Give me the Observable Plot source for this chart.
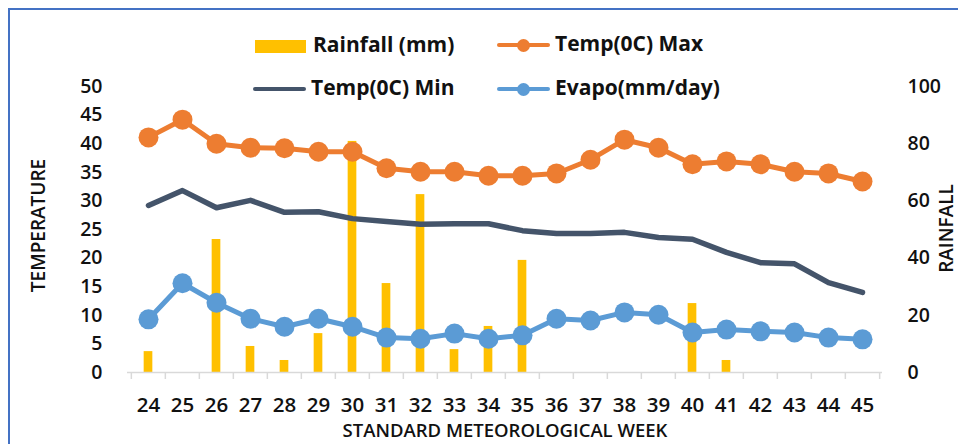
<!DOCTYPE html>
<html>
<head>
<meta charset="utf-8">
<script src="https://cdn.jsdelivr.net/npm/d3@7"></script>
<script src="https://cdn.jsdelivr.net/npm/@observablehq/plot@0.6"></script>
<style>
  html, body { margin: 0; padding: 0; background: #fff; overflow: hidden; }
  #wrap { position: relative; width: 958px; height: 444px; font-family: "Open Sans", sans-serif; }
  #border { position: absolute; left: 8px; top: 8px; width: 1000px; height: 500px; border: 2px solid #4472C4; box-sizing: border-box; }
  .leg { position: absolute; font-size: 21px; font-weight: 700; color: #111; white-space: nowrap; line-height: 1; }
  .sw { position: absolute; }
</style>
</head>
<body>
<div id="wrap">
  <div id="chart"></div>
  <div id="border"></div>
  <div id="legend"></div>
</div>
<script>
const weeks = [24, 25, 26, 27, 28, 29, 30, 31, 32, 33, 34, 35, 36, 37, 38, 39, 40, 41, 42, 43, 44, 45];
const rainfall = [7.3, 0, 46.5, 9.1, 4.2, 13.6, 80.8, 31.1, 62.2, 8.0, 16.1, 39.2, 0, 0, 0, 0, 24.1, 4.2, 0, 0, 0, 0];
const tempMax = [41.1, 44.2, 40.0, 39.3, 39.2, 38.6, 38.6, 35.7, 35.1, 35.1, 34.4, 34.4, 34.8, 37.2, 40.7, 39.3, 36.4, 36.9, 36.4, 35.1, 34.8, 33.4];
const tempMin = [29.2, 31.8, 28.8, 30.1, 28.0, 28.1, 26.9, 26.4, 25.9, 26.0, 26.0, 24.8, 24.3, 24.3, 24.5, 23.6, 23.3, 21.0, 19.2, 19.0, 15.7, 14.0];
const evapo = [9.3, 15.6, 12.2, 9.4, 8.0, 9.4, 8.0, 6.1, 5.9, 6.8, 5.9, 6.5, 9.4, 9.1, 10.5, 10.1, 7.0, 7.5, 7.2, 7.0, 6.1, 5.8];
const leftTicks = [0, 5, 10, 15, 20, 25, 30, 35, 40, 45, 50];
const rightTicks = [0, 20, 40, 60, 80, 100];

const colors = {rain: "#FFC000", max: "#ED7D31", min: "#44546A", evapo: "#5B9BD5"};
const rainMax = 100, tempTop = 50;
const ratio = tempTop / rainMax; // rainfall mapped on the temperature scale

const data = weeks.map((w, i) => ({week: w, rain: rainfall[i], tmax: tempMax[i], tmin: tempMin[i], evapo: evapo[i]}));

const W = 958, H = 444;
const mL = 127, mR = 76, mT = 86, mB = 72;
const step = (W - mL - mR) / weeks.length;
const barW = 9;
const inset = (step - barW) / 2;
const tickColor = "#d9d9d9";

const chart = Plot.plot({
  width: W,
  height: H,
  marginLeft: mL,
  marginRight: mR,
  marginTop: mT,
  marginBottom: mB,
  style: {fontFamily: "'Open Sans', sans-serif", color: "#111", background: "transparent"},
  x: {type: "band", domain: weeks, padding: 0},
  y: {domain: [0, tempTop]},
  marks: [
    Plot.barY(data, {x: "week", y: d => d.rain * ratio, fill: colors.rain, insetLeft: inset, insetRight: inset}),
    Plot.ruleY([0], {stroke: tickColor, strokeWidth: 1.5}),
    Plot.axisX(weeks, {tickSize: 7, tickFormat: () => "", dx: -step / 2, stroke: tickColor, strokeWidth: 1.5, label: null}),
    Plot.axisX([weeks[weeks.length - 1]], {tickSize: 7, tickFormat: () => "", dx: step / 2, stroke: tickColor, strokeWidth: 1.5, label: null}),
    Plot.axisX(weeks, {tickSize: 0, tickPadding: 25, fontSize: 20.5, fontWeight: 600, label: null}),
    Plot.axisY(leftTicks, {tickSize: 0, tickPadding: 25, fontSize: 19.5, fontWeight: 600, label: null}),
    Plot.axisY(rightTicks.map(v => v * ratio), {anchor: "right", tickSize: 0, tickPadding: 25, tickFormat: v => Math.round(v / ratio), fontSize: 19.5, fontWeight: 600, label: null}),
    Plot.line(data, {x: "week", y: "tmin", stroke: colors.min, strokeWidth: 5.5, strokeLinejoin: "round", strokeLinecap: "round"}),
    Plot.line(data, {x: "week", y: "tmax", stroke: colors.max, strokeWidth: 5, strokeLinejoin: "round"}),
    Plot.dot(data, {x: "week", y: "tmax", r: 10, fill: colors.max}),
    Plot.line(data, {x: "week", y: "evapo", stroke: colors.evapo, strokeWidth: 5, strokeLinejoin: "round"}),
    Plot.dot(data, {x: "week", y: "evapo", r: 10, fill: colors.evapo}),
    Plot.text(["TEMPERATURE"], {frameAnchor: "left", textAnchor: "middle", dx: -89, dy: -4, rotate: -90, fontSize: 19, fontWeight: 600}),
    Plot.text(["RAINFALL"], {frameAnchor: "right", textAnchor: "middle", dx: 64, dy: -1, rotate: -90, fontSize: 19, fontWeight: 600}),
    Plot.text(["STANDARD METEOROLOGICAL WEEK"], {frameAnchor: "bottom", dy: 64, fontSize: 18.5, fontWeight: 600})
  ]
});
document.getElementById("chart").appendChild(chart);

// Legend
const legendItems = [
  {label: "Rainfall (mm)", type: "rect", color: colors.rain, x: 255, y: 46},
  {label: "Temp(0C) Max", type: "dot", color: colors.max, x: 497, y: 45},
  {label: "Temp(0C) Min", type: "line", color: colors.min, x: 253, y: 89},
  {label: "Evapo(mm/day)", type: "dot", color: colors.evapo, x: 497, y: 89}
];
const leg = document.getElementById("legend");
for (const it of legendItems) {
  const swW = 53;
  if (it.type === "rect") {
    const s = document.createElement("div");
    s.className = "sw";
    Object.assign(s.style, {left: it.x + "px", top: (it.y - 6.5) + "px", width: "51px", height: "13px", background: it.color});
    leg.appendChild(s);
  } else {
    const s = document.createElement("div");
    s.className = "sw";
    Object.assign(s.style, {left: it.x + "px", top: (it.y - 2) + "px", width: swW + "px", height: "4px", background: it.color, borderRadius: "2px"});
    leg.appendChild(s);
    if (it.type === "dot") {
      const d = document.createElement("div");
      d.className = "sw";
      Object.assign(d.style, {left: (it.x + swW / 2 - 6.5) + "px", top: (it.y - 6.5) + "px", width: "13px", height: "13px", background: it.color, borderRadius: "50%"});
      leg.appendChild(d);
    }
  }
  const t = document.createElement("div");
  t.className = "leg";
  t.textContent = it.label;
  Object.assign(t.style, {left: (it.x + 58) + "px", top: (it.y - 12) + "px"});
  leg.appendChild(t);
}
</script>
</body>
</html>
